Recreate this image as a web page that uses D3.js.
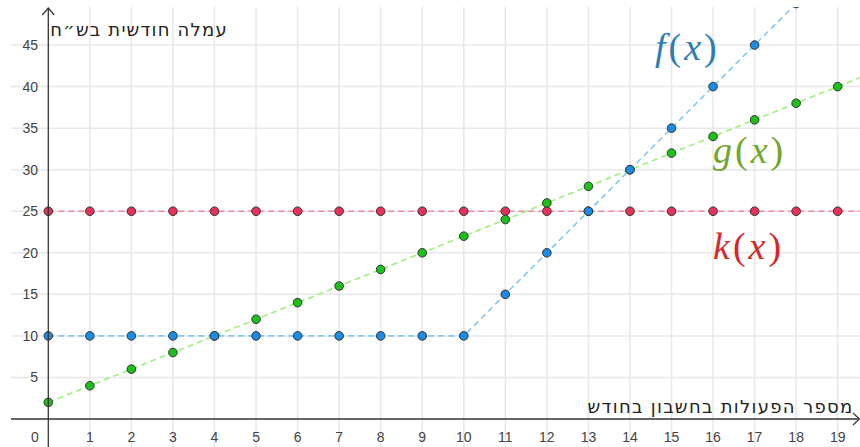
<!DOCTYPE html>
<html><head><meta charset="utf-8">
<script src="https://cdn.jsdelivr.net/npm/d3@7"></script>
<style>html,body{margin:0;padding:0;background:#fff;overflow:hidden}</style>
</head><body>
<svg id="c" width="860" height="447"></svg>
<script>
// ---- data ----
const xValues = [0,1,2,3,4,5,6,7,8,9,10,11,12,13,14,15,16,17,18,19];
const fValues = [10,10,10,10,10,10,10,10,10,10,10,15,20,25,30,35,40,45,50];   // x = 0..18
const gValues = [2,4,6,8,10,12,14,16,18,20,22,24,26,28,30,32,34,36,38,40];    // x = 0..19
const kValues = [25,25,25,25,25,25,25,25,25,25,25,25,25,25,25,25,25,25,25,25]; // x = 0..19
const xTicks = [0,1,2,3,4,5,6,7,8,9,10,11,12,13,14,15,16,17,18,19];
const yTicks = [5,10,15,20,25,30,35,40,45];
const yTitle = "עמלה חודשית בש״ח";
const xTitle = "מספר הפעולות בחשבון בחודש";

(function(){
const svg = d3.select("#c");
const W = 860, H = 447;
const x = d3.scaleLinear().domain([0,19]).range([48.3, 837.7]);
const y = d3.scaleLinear().domain([0,45]).range([419, 45.05]);
const clipL = 11, clipT = 7;

svg.append("defs").append("clipPath").attr("id","clip")
  .append("rect").attr("x",clipL).attr("y",clipT).attr("width",W-clipL).attr("height",H-clipT);

const g = svg.append("g").attr("clip-path","url(#clip)");
const gridColor = "#e8e8e8";
g.selectAll(".vg").data(d3.range(1,21)).enter().append("line")
  .attr("x1",d=>x(d)).attr("x2",d=>x(d)).attr("y1",clipT).attr("y2",H)
  .attr("stroke",gridColor).attr("stroke-width",1.5);
g.selectAll(".hg").data(yTicks).enter().append("line")
  .attr("x1",clipL).attr("x2",W).attr("y1",d=>y(d)).attr("y2",d=>y(d))
  .attr("stroke",gridColor).attr("stroke-width",1.5);

// axes
svg.append("line").attr("x1",x(0)).attr("x2",x(0)).attr("y1",8).attr("y2",H)
  .attr("stroke","#333").attr("stroke-width",1.3);
svg.append("line").attr("x1",clipL).attr("x2",859).attr("y1",y(0)).attr("y2",y(0))
  .attr("stroke","#333").attr("stroke-width",1.3);
svg.append("path").attr("d",`M${x(0)-6},${15} L${x(0)},${8} L${x(0)+6},${15}`)
  .attr("fill","none").attr("stroke","#333").attr("stroke-width",1.2);
svg.append("path").attr("d",`M${853},${y(0)-6} L${859.5},${y(0)} L${853},${y(0)+6}`)
  .attr("fill","none").attr("stroke","#333").attr("stroke-width",1.2);

// tick labels
const tickFont = "'Liberation Sans', Arial, sans-serif";
svg.selectAll(".yt").data(yTicks).enter().append("text")
  .attr("x",38).attr("y",d=>y(d)).attr("dy","0.36em").attr("text-anchor","end")
  .attr("font-family",tickFont).attr("font-size",14).attr("fill","#444").text(d=>d);
svg.selectAll(".xt").data(xTicks).enter().append("text")
  .attr("x",d=> d===0 ? 35 : x(d)).attr("y",437).attr("dy","0.36em").attr("text-anchor","middle")
  .attr("font-family",tickFont).attr("font-size",14).attr("fill","#444").text(d=>d);

// axis titles
svg.append("text").attr("x",139).attr("y",36).attr("text-anchor","middle")
  .attr("font-family","'DejaVu Sans', sans-serif").attr("font-size",18).attr("letter-spacing",1.2)
  .attr("fill","#222").text(yTitle);
svg.append("text").attr("x",720.5).attr("y",413).attr("text-anchor","middle")
  .attr("font-family","'DejaVu Sans', sans-serif").attr("font-size",18).attr("letter-spacing",1.3)
  .attr("fill","#222").text(xTitle);

// lines
const line = d3.line().x(d=>x(d[0])).y(d=>y(d[1]));
const fPts = fValues.map((v,i)=>[xValues[i],v]);
const gPts = gValues.map((v,i)=>[xValues[i],v]);
const kPts = kValues.map((v,i)=>[xValues[i],v]);
const xEdge = x.invert(W);
const gExt = gPts.concat([[xEdge, gValues[19] + (gValues[19]-gValues[18])*(xEdge-19)]]);
const kExt = kPts.concat([[xEdge, kValues[19]]]);

g.append("path").attr("d",line(kExt)).attr("fill","none").attr("stroke","#f28aa0").attr("stroke-width",1.4).attr("stroke-dasharray","6,4");
g.append("path").attr("d",line(gExt)).attr("fill","none").attr("stroke","#9cf27c").attr("stroke-width",1.6).attr("stroke-dasharray","6,4");
g.append("path").attr("d",line(fPts)).attr("fill","none").attr("stroke","#84c9f4").attr("stroke-width",1.6).attr("stroke-dasharray","6,4");

function pts(data, fill){
  g.selectAll(null).data(data).enter().append("circle")
    .attr("cx",d=>x(d[0])).attr("cy",d=>y(d[1])).attr("r",4.3)
    .attr("fill",fill).attr("stroke","#333").attr("stroke-width",1);
}
pts(kPts,"#e8305a");
pts(gPts,"#1cc018");
pts(fPts,"#1a8ce6");

function fnLabel(name, px, py, color){
  const t = svg.append("text").attr("x",px).attr("y",py)
    .attr("font-family","'Liberation Serif', 'DejaVu Serif', serif").attr("font-size",38)
    .attr("letter-spacing",3).attr("fill",color);
  t.append("tspan").attr("font-style","italic").text(name);
  t.append("tspan").text("(");
  t.append("tspan").attr("font-style","italic").text("x");
  t.append("tspan").text(")");
}
fnLabel("f",655,60,"#2a7db5");
fnLabel("g",713,163,"#72a62c");
fnLabel("k",713,259,"#d6282a");
})();
</script>
</body></html>
